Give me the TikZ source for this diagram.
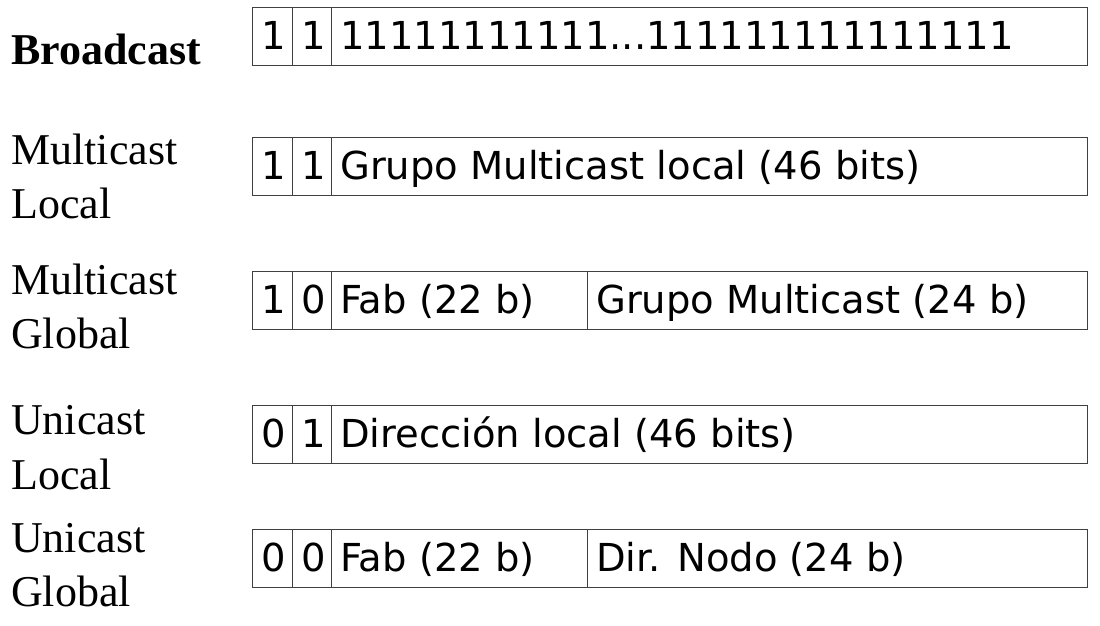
\documentclass[tikz,border=0pt]{standalone}
\usepackage{fontspec}
\setmainfont{Liberation Serif}
\newfontfamily\boxfont{DejaVu Sans}
\begin{document}
\begin{tikzpicture}[x=1pt,y=-1pt,
  cell/.style={draw=black!75, line width=1.3pt, rectangle, inner sep=0pt, anchor=north west, minimum height=58pt},
  bits/.style={font=\boxfont\fontsize{38.5}{44}\selectfont, anchor=base west, inner sep=0pt, xshift=9pt, yshift=-13pt},
  lbl/.style={font=\fontsize{44}{53}\selectfont, anchor=base west, inner sep=0pt}]
\useasboundingbox[fill=white] (0,0) rectangle (1100,626);

% Labels
\node[lbl] (lb) at (11,65) {\textbf{Broadcast}};
\node[lbl] (lml1) at (11,164) {Multicast};
\node[lbl] (lml2) at (11,218) {Local};
\node[lbl] (lmg1) at (11,294) {Multicast};
\node[lbl] (lmg2) at (11,348) {Global};
\node[lbl] (lul1) at (11,434) {Unicast};
\node[lbl] (lul2) at (11,489) {Local};
\node[lbl] (lug1) at (11,552) {Unicast};
\node[lbl] (lug2) at (11,606) {Global};

% Broadcast row
\node[cell, minimum width=40pt] (ba) at (252,7) {};
\node[cell, minimum width=39pt] (bb) at (292,7) {};
\node[cell, minimum width=756pt] (bc) at (331,7) {};
\node[bits] (tba) at (ba.west) {1};
\node[bits] (tbb) at (bb.west) {1};
\node[bits] (tbc) at (bc.west) {11111111111...111111111111111};

% Multicast local row
\node[cell, minimum width=40pt] (mla) at (252,137) {};
\node[cell, minimum width=39pt] (mlb) at (292,137) {};
\node[cell, minimum width=756pt] (mlc) at (331,137) {};
\node[bits] (tmla) at (mla.west) {1};
\node[bits] (tmlb) at (mlb.west) {1};
\node[bits] (tmlc) at (mlc.west) {Grupo Multicast local (46 bits)};

% Multicast global row
\node[cell, minimum width=40pt] (mga) at (252,271) {};
\node[cell, minimum width=39pt] (mgb) at (292,271) {};
\node[cell, minimum width=256pt] (mgc) at (331,271) {};
\node[cell, minimum width=500pt] (mgd) at (587,271) {};
\node[bits] (tmga) at (mga.west) {1};
\node[bits] (tmgb) at (mgb.west) {0};
\node[bits] (tmgc) at (mgc.west) {Fab (22 b)};
\node[bits] (tmgd) at (mgd.west) {Grupo Multicast (24 b)};

% Unicast local row
\node[cell, minimum width=40pt] (ula) at (252,405) {};
\node[cell, minimum width=39pt] (ulb) at (292,405) {};
\node[cell, minimum width=756pt] (ulc) at (331,405) {};
\node[bits] (tula) at (ula.west) {0};
\node[bits] (tulb) at (ulb.west) {1};
\node[bits] (tulc) at (ulc.west) {Dirección local (46 bits)};

% Unicast global row
\node[cell, minimum width=40pt] (uga) at (252,529) {};
\node[cell, minimum width=39pt] (ugb) at (292,529) {};
\node[cell, minimum width=256pt] (ugc) at (331,529) {};
\node[cell, minimum width=500pt] (ugd) at (587,529) {};
\node[bits] (tuga) at (uga.west) {0};
\node[bits] (tugb) at (ugb.west) {0};
\node[bits] (tugc) at (ugc.west) {Fab (22 b)};
\node[bits] (tugd) at (ugd.west) {Dir. Nodo (24 b)};
\end{tikzpicture}
\end{document}
